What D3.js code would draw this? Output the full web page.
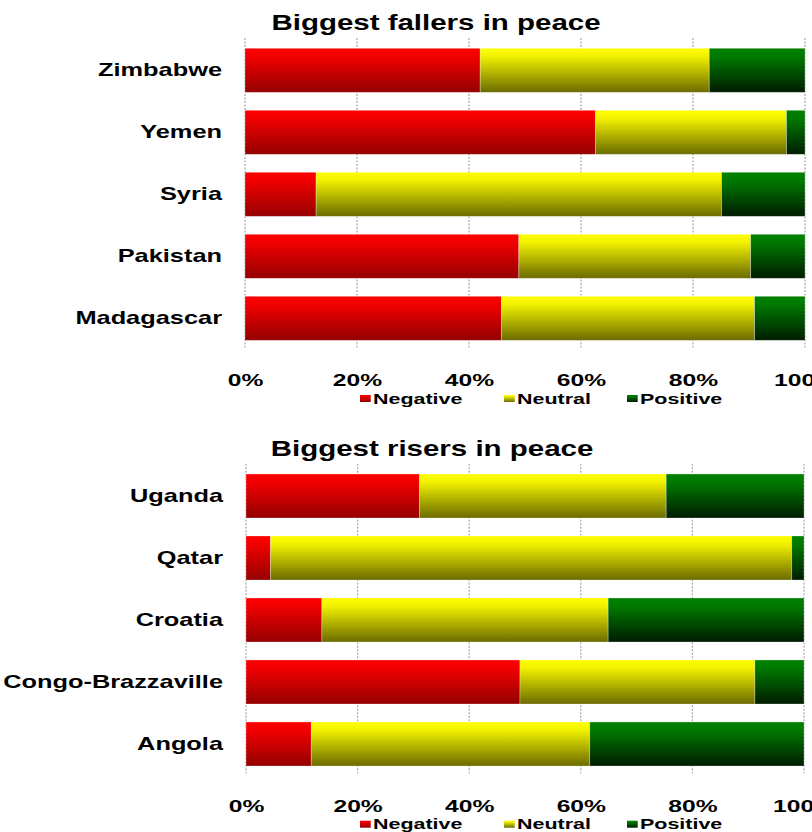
<!DOCTYPE html>
<html>
<head>
<meta charset="utf-8">
<script src="https://cdn.jsdelivr.net/npm/d3@7/dist/d3.min.js"></script>
<style>
  html, body { margin: 0; padding: 0; background: #ffffff; }
  svg { display: block; }
  text { font-family: "Liberation Sans", Arial, Helvetica, sans-serif; font-weight: bold; fill: #000; }
</style>
</head>
<body>
<svg id="chart" width="812" height="832"></svg>
<script>
// Share of indicators (%) that moved negatively, stayed neutral or moved positively
const seriesKeys = ["Negative", "Neutral", "Positive"];

const fallerCountries = ["Zimbabwe", "Yemen", "Syria", "Pakistan", "Madagascar"];
const fallerNegative  = [42.0, 62.6, 12.7, 48.9, 45.8];
const fallerNeutral   = [40.9, 34.1, 72.4, 41.4, 45.2];
const fallerPositive  = [17.1, 3.3, 14.9, 9.7, 9.0];

const riserCountries = ["Uganda", "Qatar", "Croatia", "Congo-Brazzaville", "Angola"];
const riserNegative  = [31.1, 4.4, 13.6, 49.1, 11.7];
const riserNeutral   = [44.2, 93.4, 51.3, 42.1, 49.9];
const riserPositive  = [24.7, 2.2, 35.1, 8.8, 38.4];

const tickValues = [0, 20, 40, 60, 80, 100];

// horizontal stretch applied to every label
const SX = 1.45;

const colors = {
  Negative: ["#ff0000", "#f20000", "#940000"],
  Neutral:  ["#ffff00", "#f2f200", "#6b6b00"],
  Positive: ["#008000", "#007a00", "#001c00"]
};

const svg = d3.select("#chart");
const defs = svg.append("defs");
seriesKeys.forEach(k => {
  const grad = defs.append("linearGradient")
    .attr("id", "grad-" + k)
    .attr("x1", 0).attr("y1", 0).attr("x2", 0).attr("y2", 1);
  grad.append("stop").attr("offset", "0%").attr("stop-color", colors[k][0]);
  grad.append("stop").attr("offset", "18%").attr("stop-color", colors[k][1]);
  grad.append("stop").attr("offset", "100%").attr("stop-color", colors[k][2]);
});

function buildRows(countries, neg, neu, pos) {
  return countries.map((c, i) => ({ country: c, Negative: neg[i], Neutral: neu[i], Positive: pos[i] }));
}

function drawPanel(cfg) {
  const g = svg.append("g").attr("transform", `translate(0,${cfg.dy})`);
  const rows = buildRows(cfg.countries, cfg.neg, cfg.neu, cfg.pos);

  const x = d3.scaleLinear().domain([0, 100]).range([cfg.x0, cfg.x1]);
  const y = d3.scaleBand().domain(cfg.countries)
    .range([39.3, 349.3]).paddingInner(0.29).paddingOuter(0.145);

  // title
  g.append("text")
    .attr("transform", `translate(${cfg.titleX},30) scale(1.34,1)`)
    .attr("text-anchor", "middle")
    .style("font-size", "22px")
    .text(cfg.title);

  // dashed vertical gridlines
  g.append("g").selectAll("line").data(tickValues).join("line")
    .attr("x1", d => x(d)).attr("x2", d => x(d))
    .attr("y1", 38).attr("y2", 347.5)
    .attr("stroke", "#a6a6a6").attr("stroke-width", 1.2)
    .attr("stroke-dasharray", "2,1.5");

  // stacked bars
  const stacked = d3.stack().keys(seriesKeys)(rows);
  g.append("g").selectAll("g").data(stacked).join("g")
    .attr("fill", d => `url(#grad-${d.key})`)
    .selectAll("rect").data(d => d).join("rect")
      .attr("x", d => x(d[0]))
      .attr("y", d => y(d.data.country))
      .attr("width", d => x(d[1]) - x(d[0]))
      .attr("height", y.bandwidth())
      .attr("stroke", "rgba(255,255,255,0.35)")
      .attr("stroke-width", 0.8);

  // category axis
  const ya = g.append("g").attr("transform", `translate(${cfg.x0},0)`)
    .call(d3.axisLeft(y).tickSize(0));
  ya.select(".domain").remove();
  ya.selectAll("text")
    .attr("x", -23 / SX)
    .attr("transform", `scale(${SX},1)`)
    .attr("fill", "#000")
    .style("font-size", "17.5px")
    .style("font-family", "'Liberation Sans', Arial, sans-serif")
    .style("font-weight", "bold");

  // percentage axis
  const xa = g.append("g").attr("transform", "translate(0,386)")
    .call(d3.axisBottom(x).tickValues(tickValues).tickFormat(d => d + "%").tickSize(0));
  xa.select(".domain").remove();
  xa.selectAll("text")
    .attr("y", 0).attr("dy", 0)
    .attr("transform", `scale(${SX},1)`)
    .attr("fill", "#000")
    .style("font-size", "17px")
    .style("font-family", "'Liberation Sans', Arial, sans-serif")
    .style("font-weight", "bold");

  // legend
  const legendX = [360, 504, 627];
  const lg = g.append("g").selectAll("g").data(seriesKeys).join("g")
    .attr("transform", (d, i) => `translate(${legendX[i]},0)`);
  lg.append("rect")
    .attr("x", 0).attr("y", 395).attr("width", 10.7).attr("height", 7)
    .attr("fill", d => `url(#grad-${d})`);
  lg.append("text")
    .attr("transform", `translate(13,403.5) scale(${SX},1)`)
    .style("font-size", "14.8px")
    .text(d => d);
}

drawPanel({
  dy: 0, x0: 245, x1: 805, titleX: 436,
  title: "Biggest fallers in peace",
  countries: fallerCountries, neg: fallerNegative, neu: fallerNeutral, pos: fallerPositive
});

drawPanel({
  dy: 425.7, x0: 246, x1: 804, titleX: 432,
  title: "Biggest risers in peace",
  countries: riserCountries, neg: riserNegative, neu: riserNeutral, pos: riserPositive
});
</script>
</body>
</html>
